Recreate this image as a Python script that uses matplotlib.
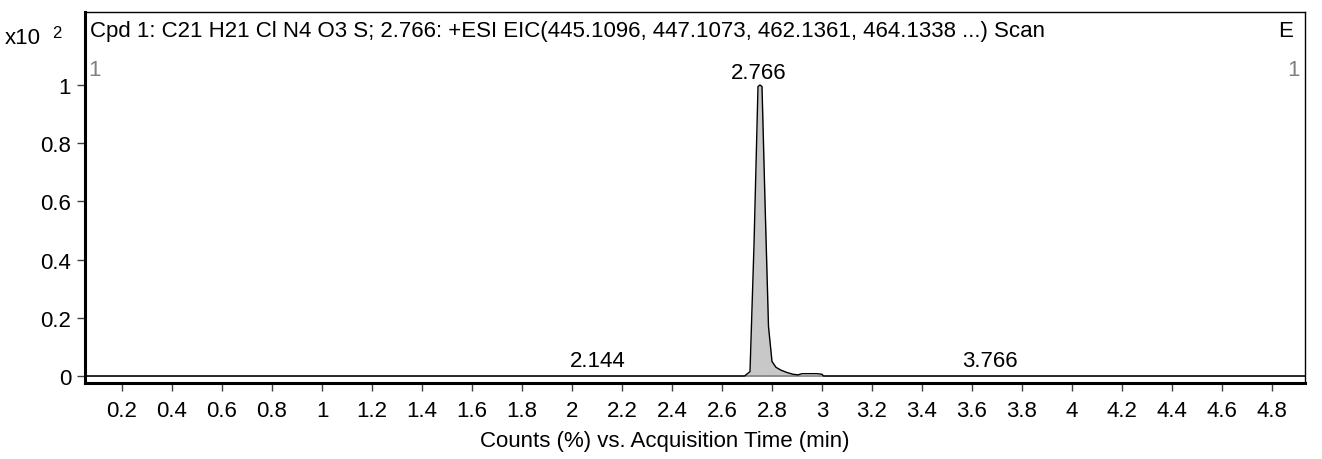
import matplotlib.pyplot as plt
import numpy as np

plt.rcParams['font.family'] = ['Liberation Sans', 'DejaVu Sans']

# EIC trace (time in min, counts in units of x10^2 %)
times = [0.052, 2.69, 2.712, 2.728, 2.744, 2.752, 2.760, 2.772, 2.786, 2.800,
         2.816, 2.836, 2.860, 2.884, 2.904, 2.92, 2.98, 3.000, 3.006, 4.932]
counts = [0.0, 0.0, 0.015, 0.45, 0.995, 1.0, 0.995, 0.60, 0.17, 0.05,
          0.03, 0.02, 0.012, 0.006, 0.004, 0.008, 0.008, 0.006, 0.0, 0.0]
fill_end = 2.904

peak_labels = ["2.144", "2.766", "3.766"]
label_x = [2.104, 2.745, 3.672]
label_y = [0.034, 1.025, 0.034]

x_ticks = [0.2, 0.4, 0.6, 0.8, 1, 1.2, 1.4, 1.6, 1.8, 2, 2.2, 2.4, 2.6, 2.8,
           3, 3.2, 3.4, 3.6, 3.8, 4, 4.2, 4.4, 4.6, 4.8]
y_ticks = [0, 0.2, 0.4, 0.6, 0.8, 1]

title = "Cpd 1: C21 H21 Cl N4 O3 S; 2.766: +ESI EIC(445.1096, 447.1073, 462.1361, 464.1338 ...) Scan"
FS = 16

fig = plt.figure(figsize=(13.22, 4.6), dpi=100)
ax = fig.add_axes([85 / 1322, (460 - 384) / 460, 1220 / 1322, 371 / 460])

t = np.array(times)
c = np.array(counts)
mask = t <= fill_end
ax.fill_between(t[mask], 0, c[mask], color='#c8c8c8', lw=0)
ax.axhline(0, color='#808080', lw=1.2)
ax.plot(t, c, color='black', lw=1)

ax.set_xlim(0.052, 4.932)
ax.set_ylim(-0.024, 1.251)
ax.set_xticks(x_ticks)
ax.set_xticklabels([f"{v:g}" for v in x_ticks])
ax.set_yticks(y_ticks)
ax.set_yticklabels([f"{v:g}" for v in y_ticks])
ax.tick_params(axis='both', labelsize=FS, length=6, color='#404040', width=1)
ax.tick_params(axis='x', pad=6)
ax.tick_params(axis='y', pad=4)

for side in ['top', 'right']:
    ax.spines[side].set_linewidth(1)
for side in ['left', 'bottom']:
    ax.spines[side].set_linewidth(2.2)

for lbl, xp, yp in zip(peak_labels, label_x, label_y):
    ax.text(xp, yp, lbl, ha='center', va='baseline', fontsize=FS)

ax.text(0.004, 0.935, title, transform=ax.transAxes, ha='left', va='baseline', fontsize=FS)
ax.text(0.990, 0.935, "E", transform=ax.transAxes, ha='right', va='baseline', fontsize=FS)
ax.text(0.003, 0.83, "1", transform=ax.transAxes, ha='left', va='baseline', fontsize=FS, color='#808080')
ax.text(0.996, 0.83, "1", transform=ax.transAxes, ha='right', va='baseline', fontsize=FS, color='#808080')

fig.text(5 / 1322, 1 - 38 / 460, "x10", ha='left', va='center', fontsize=FS)
fig.text(52 / 1322, 1 - 33 / 460, "2", ha='left', va='center', fontsize=12)
fig.text(665 / 1322, 1 - 442 / 460, "Counts (%) vs. Acquisition Time (min)",
         ha='center', va='center', fontsize=FS)

fig.savefig("out.png", dpi=100)
